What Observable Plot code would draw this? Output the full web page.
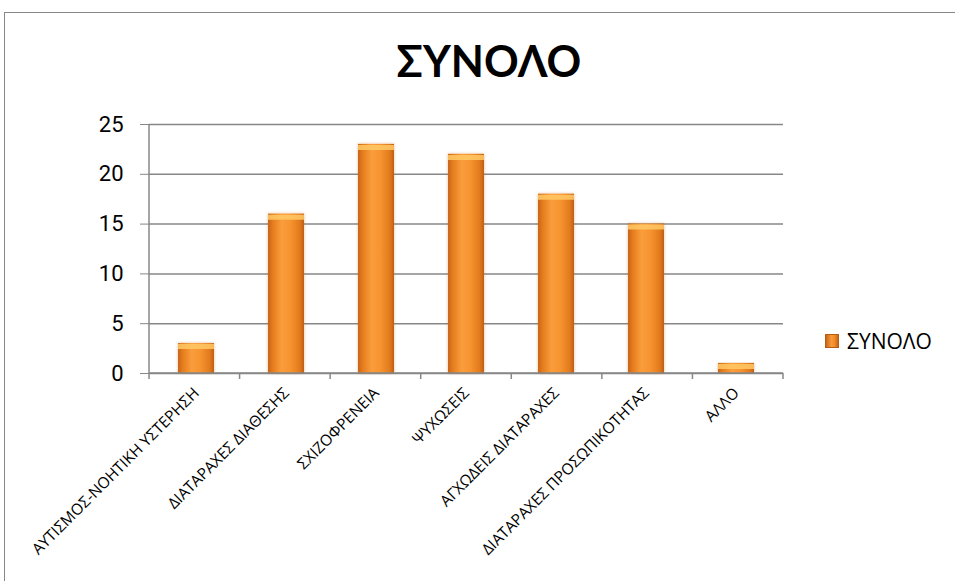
<!DOCTYPE html>
<html>
<head>
<meta charset="utf-8">
<script src="https://cdn.jsdelivr.net/npm/d3@7"></script>
<script src="https://cdn.jsdelivr.net/npm/@observablehq/plot@0.6"></script>
<style>
  html, body { margin: 0; padding: 0; background: #fff; overflow: hidden; }
  #wrap { position: relative; width: 955px; height: 581px; overflow: hidden; }
  #frame { position: absolute; left: 4px; top: 12px; width: 1000px; height: 700px;
           border: 1.5px solid #878787; box-sizing: border-box; }
  #chart { position: absolute; left: 0; top: 0; }
  #title { position: absolute; left: 0; width: 978px; top: 39px; text-align: center;
           font: bold 43px Lato, "Open Sans", sans-serif; color: #000; line-height: 1; }
  #legend { position: absolute; left: 825px; top: 327px; display: flex; align-items: center;
            font: 21px "Open Sans", sans-serif; color: #000; }
  #legend .sw { width: 14px; height: 14px; margin-right: 8px; box-sizing: border-box;
                border: 1px solid #b35e14;
                background: linear-gradient(to right, #c9661a, #f99b3a 45%, #f28d27 70%, #c9661a); }
</style>
</head>
<body>
<div id="wrap">
  <div id="frame"></div>
  <div id="chart"></div>
  <div id="title"></div>
  <div id="legend"><span class="sw"></span><span id="legendText"></span></div>
</div>
<script>
// Diagnostic groups and their totals
const categories = [
  "ΑΥΤΙΣΜΟΣ-ΝΟΗΤΙΚΗ ΥΣΤΕΡΗΣΗ",
  "ΔΙΑΤΑΡΑΧΕΣ ΔΙΑΘΕΣΗΣ",
  "ΣΧΙΖΟΦΡΕΝΕΙΑ",
  "ΨΥΧΩΣΕΙΣ",
  "ΑΓΧΩΔΕΙΣ ΔΙΑΤΑΡΑΧΕΣ",
  "ΔΙΑΤΑΡΑΧΕΣ ΠΡΟΣΩΠΙΚΟΤΗΤΑΣ",
  "ΑΛΛΟ"
];
const values = [3, 16, 23, 22, 18, 15, 1];
const yTicks = [0, 5, 10, 15, 20, 25];
const seriesName = "ΣΥΝΟΛΟ";
const chartTitle = "ΣΥΝΟΛΟ";

const data = categories.map((c, i) => ({category: c, value: values[i]}));

document.getElementById("title").textContent = chartTitle;
document.getElementById("legendText").textContent = seriesName;

const gridColor = "#878787";

// Axis lines: left vertical line, baseline and category boundary ticks
function axisLines(index, scales, values, dims) {
  const g = d3.create("svg:g").attr("stroke", gridColor).attr("stroke-width", 1.5);
  const x0 = dims.marginLeft, x1 = dims.width - dims.marginRight;
  const y0 = dims.height - dims.marginBottom, yTop = dims.marginTop;
  g.append("line").attr("x1", x0).attr("x2", x0).attr("y1", yTop).attr("y2", y0 + 6);
  g.append("line").attr("x1", x0).attr("x2", x1).attr("y1", y0).attr("y2", y0);
  const n = categories.length, step = (x1 - x0) / n;
  for (let i = 1; i <= n; ++i) {
    const x = x0 + i * step;
    g.append("line").attr("x1", x).attr("x2", x).attr("y1", y0).attr("y2", y0 + 6);
  }
  return g.node();
}

const plot = Plot.plot({
  width: 955,
  height: 581,
  marginLeft: 149,
  marginRight: 172,
  marginTop: 124,
  marginBottom: 208,
  style: {background: "transparent", overflow: "visible"},
  x: {domain: categories, paddingInner: 0.6, paddingOuter: 0.3, label: null},
  y: {domain: [0, 25], label: null},
  marks: [
    Plot.gridY(yTicks, {stroke: gridColor, strokeOpacity: 1, strokeWidth: 1.5}),
    Plot.axisY({ticks: yTicks, tickSize: 9, tickPadding: 17, stroke: gridColor,
                fontSize: 22, fontFamily: "Roboto", fill: "#000", label: null}),
    Plot.axisX({tickSize: 0, tickPadding: 17, tickRotate: -45, fontSize: 15.5,
                fontFamily: "'Open Sans'", fill: "#000", textAnchor: "end", label: null}),
    Plot.barY(data, {x: "category", y: "value", fill: "url(#barGrad)"}),
    Plot.tickY(data, {x: "category", y: "value", stroke: "#ffc965", strokeWidth: 5, dy: 3, strokeOpacity: 0.85}),
    axisLines
  ]
});

// Gradient and soft shadow for the bars
const svg = d3.select(plot);
const defs = svg.insert("defs", ":first-child");
const grad = defs.append("linearGradient").attr("id", "barGrad")
  .attr("x1", "0").attr("x2", "1").attr("y1", "0").attr("y2", "0");
[[0, "#c7641a"], [0.12, "#e47b1e"], [0.38, "#fa9d3b"], [0.62, "#f79430"], [0.88, "#e27a1d"], [1, "#bf5f18"]]
  .forEach(([o, c]) => grad.append("stop").attr("offset", o).attr("stop-color", c));
const f = defs.append("filter").attr("id", "barShadow")
  .attr("x", "-20%").attr("y", "-5%").attr("width", "140%").attr("height", "110%");
f.append("feDropShadow").attr("dx", 0).attr("dy", 0).attr("stdDeviation", 1.5)
  .attr("flood-color", "#c0611a").attr("flood-opacity", 0.45);
svg.selectAll("g[aria-label='bar'] rect").attr("style", "filter:url(#barShadow)");

document.getElementById("chart").appendChild(plot);
</script>
</body>
</html>
